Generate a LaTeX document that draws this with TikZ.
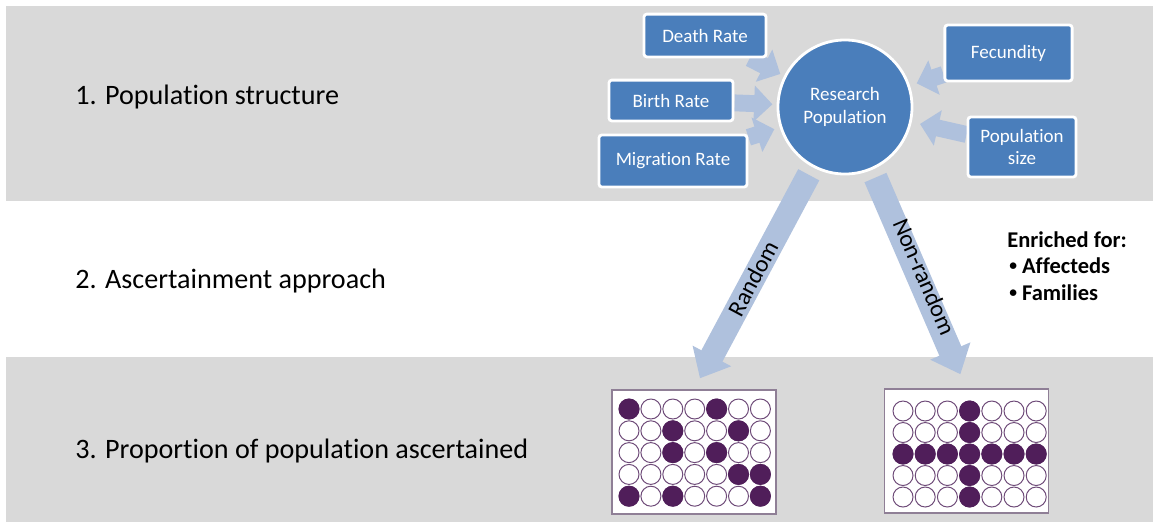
\documentclass[tikz,border=0pt]{standalone}
\usepackage{fontspec}
\setmainfont{Carlito}[Ligatures=NoCommon]
\usetikzlibrary{arrows.meta}
\definecolor{bandgray}{HTML}{D9D9D9}
\definecolor{boxblue}{HTML}{4A7EBB}
\definecolor{flowblue}{HTML}{AFC1DD}
\definecolor{dotpurple}{HTML}{501E5A}
\definecolor{ringpurple}{HTML}{6E4A78}
\definecolor{platerim}{HTML}{8F7F96}
\pgfdeclarelayer{back}
\pgfdeclarelayer{mid}
\pgfsetlayers{back,mid,main}
\newcommand{\smallbullet}{\raisebox{0.2ex}{\fontsize{11}{11}\selectfont\textbullet}}

\begin{document}
\begin{tikzpicture}[x=0.025cm,y=-0.025cm,
    factor/.style={draw=white,line width=2pt,fill=boxblue,rounded corners=2pt,text=white,
      font=\fontsize{13.5}{16}\selectfont,align=center,inner sep=0pt},
    steplabel/.style={anchor=base west,font=\fontsize{20}{24}\selectfont,inner sep=0pt},
    enrich/.style={anchor=base west,font=\fontsize{16}{19}\selectfont\bfseries,inner sep=0pt},
    flow/.style={draw=flowblue,line width=12pt,-{Triangle[width=25pt,length=13pt]}},
    bigflow/.style={draw=flowblue,line width=17pt,-{Triangle[width=30pt,length=18pt]}},
    plate/.style={draw=platerim,line width=0.8pt,fill=white,inner sep=0pt},
    ring/.style={draw=ringpurple,line width=0.7pt,fill=white},
    spot/.style={fill=dotpurple}]
  \useasboundingbox (0,0) rectangle (1153,522);
  \begin{pgfonlayer}{back}
    \fill[bandgray] (6,6) rectangle (1153,201);
    \fill[bandgray] (6,357) rectangle (1153,522);
  \end{pgfonlayer}

  % the three rows
  \node[steplabel] (row1) at (75,104) {1. Population structure};
  \node[steplabel] (row2) at (75,288) {2. Ascertainment approach};
  \node[steplabel] (row3) at (75,458) {3. Proportion of population ascertained};

  % population and its factors
  \node[factor,circle,minimum size=3.35cm] (research) at (845,107) {Research\\Population};
  \node[factor,minimum width=3.05cm,minimum height=1.07cm] (death) at (705,35.5) {Death Rate};
  \node[factor,minimum width=3.1cm,minimum height=1.02cm] (birth) at (671,100.5) {Birth Rate};
  \node[factor,minimum width=3.7cm,minimum height=1.3cm] (migration) at (673,161) {Migration Rate};
  \node[factor,minimum width=3.18cm,minimum height=1.4cm] (fecundity) at (1008.5,53) {Fecundity};
  \node[factor,minimum width=2.7cm,minimum height=1.5cm] (popsize) at (1022,147) {Population\\size};

  % sampled plates
  \node[plate,minimum width=4.1cm,minimum height=3.1cm] (randplate) at (694,452) {};
  \node[plate,minimum width=4.08cm,minimum height=3.1cm] (nonrandplate) at (966.5,451) {};
  \foreach \c in {0,...,6}
    \foreach \r in {0,...,4} {
      \draw[ring] (629+21.9*\c,409+21.8*\r) circle[radius=10];
      \draw[ring] (903+22.2*\c,411+21.5*\r) circle[radius=10];
    }
  \foreach \c/\r in {0/0,4/0,2/1,5/1,2/2,4/2,5/3,6/3,0/4,2/4,6/4}
    \fill[spot] (629+21.9*\c,409+21.8*\r) circle[radius=10.5];
  \foreach \c in {0,...,6}
    \fill[spot] (903+22.2*\c,411+21.5*2) circle[radius=10.5];
  \foreach \r in {0,1,3,4}
    \fill[spot] (903+22.2*3,411+21.5*\r) circle[radius=10.5];

  \node[enrich] (enr) at (1007,247) {Enriched for:};
  \node[enrich] (aff) at (1009,273) {\smallbullet\ Affecteds};
  \node[enrich] (fam) at (1009,300) {\smallbullet\ Families};

  \begin{pgfonlayer}{mid}
    \draw[flow,shorten >=3pt] (death) -- (research);
    \draw[flow,shorten >=3pt] (birth) -- (research);
    \draw[flow,shorten >=4pt] (migration) -- (research);
    \draw[flow,shorten >=5pt] (fecundity) -- (research);
    \draw[flow,shorten >=6pt] (popsize) -- (research);
    \draw[bigflow,shorten <=6pt,shorten >=9pt] (research) -- (randplate.north)
      node[midway,sloped,font=\fontsize{17}{20}\selectfont] {Random};
    \draw[bigflow,shorten <=6pt,shorten >=11pt] (research) -- (nonrandplate.north)
      node[midway,sloped,yshift=4pt,font=\fontsize{17}{20}\selectfont] {Non-random};
  \end{pgfonlayer}
\end{tikzpicture}
\end{document}
